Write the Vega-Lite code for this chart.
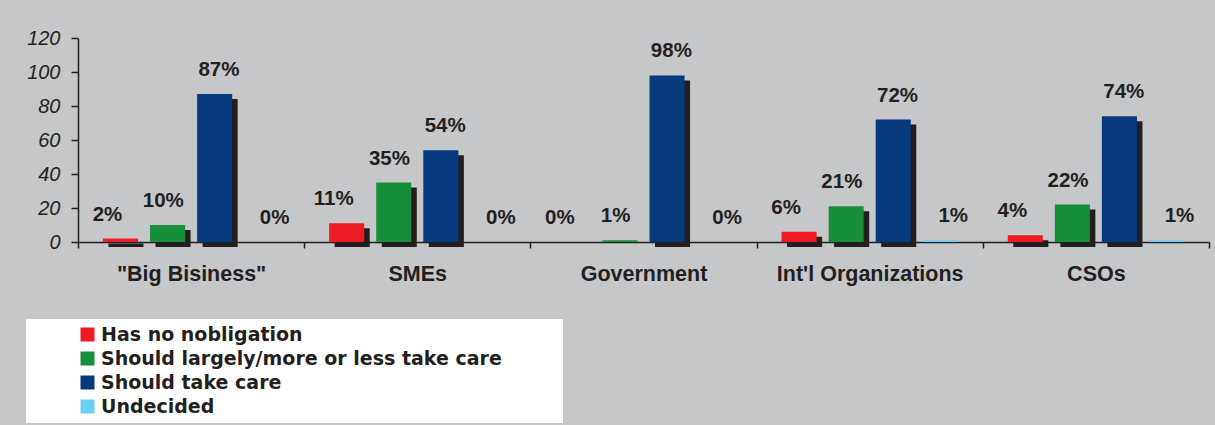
{
  "$schema": "https://vega.github.io/schema/vega-lite/v6.json",
  "width": 1131,
  "height": 204,
  "autosize": {"type": "none"},
  "padding": {"left": 78, "top": 38, "right": 6, "bottom": 183},
  "background": "#c6c7c9",
  "data": {
    "values": [
      {"group": "\"Big Bisiness\"", "response": "Has no nobligation", "value": 2},
      {"group": "\"Big Bisiness\"", "response": "Should largely/more or less take care", "value": 10},
      {"group": "\"Big Bisiness\"", "response": "Should take care", "value": 87},
      {"group": "\"Big Bisiness\"", "response": "Undecided", "value": 0},
      {"group": "SMEs", "response": "Has no nobligation", "value": 11},
      {"group": "SMEs", "response": "Should largely/more or less take care", "value": 35},
      {"group": "SMEs", "response": "Should take care", "value": 54},
      {"group": "SMEs", "response": "Undecided", "value": 0},
      {"group": "Government", "response": "Has no nobligation", "value": 0},
      {"group": "Government", "response": "Should largely/more or less take care", "value": 1},
      {"group": "Government", "response": "Should take care", "value": 98},
      {"group": "Government", "response": "Undecided", "value": 0},
      {"group": "Int'l Organizations", "response": "Has no nobligation", "value": 6},
      {"group": "Int'l Organizations", "response": "Should largely/more or less take care", "value": 21},
      {"group": "Int'l Organizations", "response": "Should take care", "value": 72},
      {"group": "Int'l Organizations", "response": "Undecided", "value": 1},
      {"group": "CSOs", "response": "Has no nobligation", "value": 4},
      {"group": "CSOs", "response": "Should largely/more or less take care", "value": 22},
      {"group": "CSOs", "response": "Should take care", "value": 74},
      {"group": "CSOs", "response": "Undecided", "value": 1}
    ]
  },
  "transform": [{"calculate": "datum.value + '%'", "as": "label"}],
  "encoding": {
    "x": {
      "field": "group", "type": "nominal", "sort": null,
      "scale": {"paddingInner": 0, "paddingOuter": 0},
      "axis": {
        "title": null, "labelAngle": 0, "labelFontWeight": "bold", "labelFontSize": 21.5,
        "labelColor": "#231f20", "labelFont": "Liberation Sans", "tickBand": "extent",
        "tickSize": 6, "labelPadding": 15, "labelLimit": 0, "domainColor": "#231f20", "domainWidth": 1.5,
        "tickColor": "#231f20", "tickWidth": 1.5, "grid": false
      }
    },
    "y": {
      "field": "value", "type": "quantitative",
      "scale": {"domain": [0, 120], "nice": false},
      "axis": {
        "title": null, "values": [0, 20, 40, 60, 80, 100, 120], "grid": false,
        "labelFontStyle": "italic", "labelFontSize": 20, "labelColor": "#231f20",
        "labelFont": "Liberation Sans", "tickSize": 7, "labelPadding": 11,
        "domainColor": "#231f20", "domainWidth": 1.5, "tickColor": "#231f20", "tickWidth": 1.5
      }
    }
  },
  "layer": [
    {
      "transform": [{"filter": "datum.value >= 2"}],
      "mark": {"type": "bar", "color": "#231f20", "yOffset": 5, "y2Offset": 3},
      "encoding": {
        "xOffset": {
          "field": "response", "type": "nominal", "sort": null,
          "scale": {
            "domain": ["Has no nobligation", "Should largely/more or less take care", "Should take care", "Undecided"],
            "paddingInner": 0.255, "paddingOuter": 0.53, "align": 0.61
          }
        }
      }
    },
    {
      "mark": {"type": "bar"},
      "encoding": {
        "xOffset": {
          "field": "response", "type": "nominal", "sort": null,
          "scale": {"paddingInner": 0.255, "paddingOuter": 0.53}
        },
        "color": {
          "field": "response", "type": "nominal",
          "scale": {
            "domain": ["Has no nobligation", "Should largely/more or less take care", "Should take care", "Undecided"],
            "range": ["#ed1c24", "#178e3a", "#07397d", "#6dcff6"]
          },
          "legend": {
            "orient": "none", "legendX": -52, "legendY": 281,
            "title": " ", "titleOrient": "right", "titlePadding": 55,
            "fillColor": "white", "padding": 6,
            "symbolType": "square", "symbolSize": 196, "symbolOffset": 46, "symbolStrokeWidth": 0,
            "labelOffset": 4, "labelFontSize": 19, "labelFontWeight": "bold",
            "labelColor": "#231f20", "labelFont": "DejaVu Sans", "rowPadding": 4,
            "labelLimit": 0
          }
        }
      }
    },
    {
      "mark": {
        "type": "text", "align": "center", "baseline": "alphabetic", "dy": -18,
        "fontSize": 20.5, "fontWeight": "bold", "color": "#231f20", "font": "Liberation Sans"
      },
      "encoding": {
        "xOffset": {
          "field": "response", "type": "nominal", "sort": null,
          "scale": {"paddingInner": 0.255, "paddingOuter": 0.53}
        },
        "text": {"field": "label"}
      }
    }
  ],
  "resolve": {"scale": {"xOffset": "independent"}},
  "config": {"view": {"stroke": null}}
}
